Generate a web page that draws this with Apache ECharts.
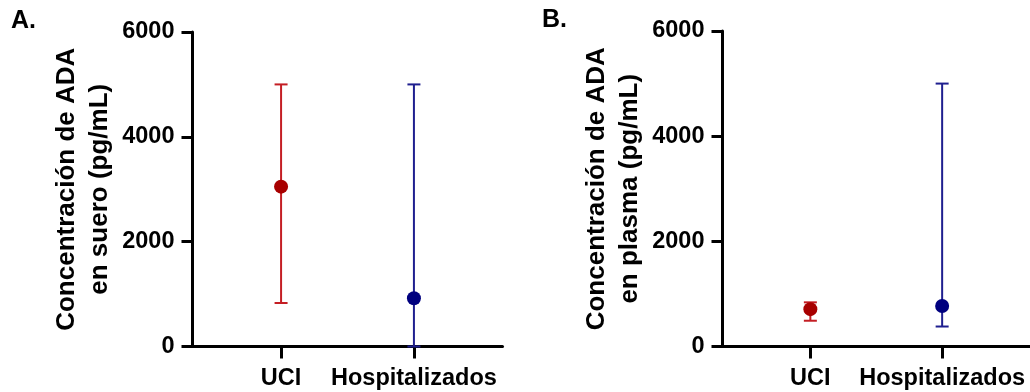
<!DOCTYPE html>
<html>
<head>
<meta charset="utf-8">
<script src="https://cdn.jsdelivr.net/npm/echarts@6/dist/echarts.min.js"></script>
<style>
  html, body { margin: 0; padding: 0; background: #fff; }
  #chart { width: 1030px; height: 392px; }
</style>
</head>
<body>
<div id="chart"></div>
<script>
// Groups on the x axis
const categories = ['UCI', 'Hospitalizados'];

// Panel A: ADA in serum (pg/mL) — mean with lower / upper error limits
const sueroMean = [3050, 920];
const sueroLow = [830, 0];
const sueroHigh = [5000, 5000];

// Panel B: ADA in plasma (pg/mL)
const plasmaMean = [710, 770];
const plasmaLow = [490, 380];
const plasmaHigh = [840, 5000];

// y axis ticks
const yTicks = [0, 2000, 4000, 6000];

const markerColors = ['#a80000', '#00007f'];
const barColors = ['#c41e24', '#1f1f8f'];
const FONT = '"Liberation Sans", Arial, Helvetica, sans-serif';

const groupPos = categories.map((c, i) => i + 1);

function errorData(low, high) {
  return categories.map((c, i) => [groupPos[i], low[i], high[i], i]);
}
function meanData(mean) {
  return categories.map((c, i) => ({
    value: [groupPos[i], mean[i]],
    itemStyle: { color: markerColors[i], opacity: 1 }
  }));
}

function renderErrorBar(params, api) {
  const x = api.value(0);
  const pLo = api.coord([x, api.value(1)]);
  const pHi = api.coord([x, api.value(2)]);
  const half = 6.5;
  const color = barColors[api.value(3)];
  const style = { stroke: color, lineWidth: 2 };
  return {
    type: 'group',
    children: [
      { type: 'line', shape: { x1: pLo[0], y1: pLo[1], x2: pHi[0], y2: pHi[1] }, style },
      { type: 'line', shape: { x1: pHi[0] - half, y1: pHi[1], x2: pHi[0] + half, y2: pHi[1] }, style },
      { type: 'line', shape: { x1: pLo[0] - half, y1: pLo[1], x2: pLo[0] + half, y2: pLo[1] }, style }
    ]
  };
}

function xAxisFor(gridIndex) {
  return {
    type: 'value',
    gridIndex,
    min: 1 / 3,
    max: 8 / 3,
    axisLine: { show: true, onZero: false, lineStyle: { color: '#000', width: 3 } },
    axisTick: { show: true, customValues: groupPos, length: 12, lineStyle: { color: '#000', width: 3 } },
    axisLabel: {
      customValues: groupPos,
      margin: 20,
      color: '#000',
      fontFamily: FONT,
      fontWeight: 'bold',
      fontSize: 23.5,
      formatter: v => categories[Math.round(v) - 1] || ''
    },
    splitLine: { show: false }
  };
}

function yAxisFor(gridIndex, title) {
  return {
    type: 'value',
    gridIndex,
    min: yTicks[0],
    max: yTicks[yTicks.length - 1],
    interval: yTicks[1] - yTicks[0],
    name: title,
    nameLocation: 'middle',
    nameRotate: 90,
    nameGap: 76,
    nameTextStyle: {
      color: '#000',
      fontFamily: FONT,
      fontWeight: 'bold',
      fontSize: 26,
      lineHeight: 33,
      align: 'center'
    },
    axisLine: { show: true, lineStyle: { color: '#000', width: 3 } },
    axisTick: { show: true, length: 11, lineStyle: { color: '#000', width: 3 } },
    axisLabel: {
      margin: 18,
      color: '#000',
      fontFamily: FONT,
      fontWeight: 'bold',
      fontSize: 23.5,
      formatter: v => String(v)
    },
    splitLine: { show: false }
  };
}

const chart = echarts.init(document.getElementById('chart'), null, { renderer: 'canvas' });

chart.setOption({
  animation: false,
  backgroundColor: '#fff',
  grid: [
    { left: 192.5, top: 32, width: 310, height: 314.5 },
    { left: 722.5, top: 31, width: 310, height: 315.5 }
  ],
  xAxis: [xAxisFor(0), xAxisFor(1)],
  yAxis: [
    yAxisFor(0, 'Concentración de ADA\nen suero (pg/mL)'),
    yAxisFor(1, 'Concentración de ADA\nen plasma (pg/mL)')
  ],
  graphic: [
    { type: 'text', left: 11, top: 9, style: { text: 'A.', font: 'bold 25px ' + FONT, fill: '#000' } },
    { type: 'text', left: 542, top: 8, style: { text: 'B.', font: 'bold 25px ' + FONT, fill: '#000' } }
  ],
  series: [
    { type: 'custom', xAxisIndex: 0, yAxisIndex: 0, renderItem: renderErrorBar, data: errorData(sueroLow, sueroHigh), z: 3 },
    { type: 'scatter', xAxisIndex: 0, yAxisIndex: 0, symbol: 'circle', symbolSize: 14, data: meanData(sueroMean), z: 4 },
    { type: 'custom', xAxisIndex: 1, yAxisIndex: 1, renderItem: renderErrorBar, data: errorData(plasmaLow, plasmaHigh), z: 3 },
    { type: 'scatter', xAxisIndex: 1, yAxisIndex: 1, symbol: 'circle', symbolSize: 14, data: meanData(plasmaMean), z: 4 }
  ]
});
</script>
</body>
</html>
